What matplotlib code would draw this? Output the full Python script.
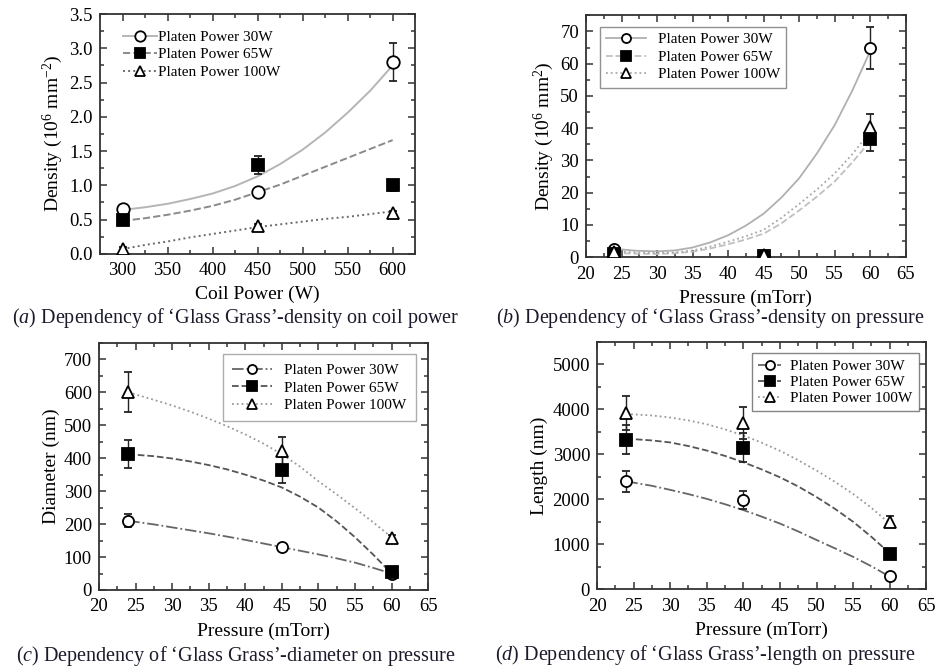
import matplotlib
matplotlib.use("Agg")
import matplotlib.pyplot as plt
from matplotlib.lines import Line2D
from matplotlib.ticker import MultipleLocator, FormatStrFormatter

plt.rcParams['font.family'] = ['Liberation Serif', 'DejaVu Serif']
plt.rcParams['mathtext.fontset'] = 'custom'
plt.rcParams['mathtext.rm'] = 'Liberation Serif'
plt.rcParams['mathtext.it'] = 'Liberation Serif:italic'

labels = ['Platen Power 30W', 'Platen Power 65W', 'Platen Power 100W']

# (a) density vs coil power
coil = [300, 450, 600]
a_dens = [[0.65, 0.90, 2.80], [0.50, 1.30, 1.00], [0.07, 0.40, 0.60]]
a_err = [[0.03, 0.06, 0.28], [0.03, 0.13, 0.08], [0.03, 0.03, 0.03]]
a_fit_x = [300, 325, 350, 375, 400, 425, 450, 475, 500, 525, 550, 575, 600]
a_fit = [[0.64, 0.68, 0.73, 0.80, 0.88, 0.99, 1.13, 1.31, 1.52, 1.77, 2.06, 2.38, 2.75],
         [0.48, 0.52, 0.57, 0.63, 0.70, 0.79, 0.90, 1.01, 1.14, 1.27, 1.40, 1.53, 1.66],
         [0.07, 0.13, 0.18, 0.24, 0.29, 0.34, 0.39, 0.43, 0.47, 0.51, 0.54, 0.58, 0.62]]

# (b) density vs pressure
b_press = [24, 45, 60]
b_dens = [[2.5, 0.4, 65.0], [1.0, 0.3, 36.5], [1.5, 0.8, 40.5]]
b_err = [[0.5, 0.1, 6.5], [0.3, 0.1, 3.5], [0.4, 0.2, 4.0]]
b_fit_x = [24, 27, 30, 32.5, 35, 37.5, 40, 42.5, 45, 47.5, 50, 52.5, 55, 57.5, 60]
b_fit = [[2.6, 2.0, 1.8, 2.1, 3.0, 4.6, 6.8, 9.8, 13.5, 18.5, 24.5, 32.2, 41.0, 51.8, 64.0],
         [1.3, 1.1, 1.0, 1.2, 1.7, 2.7, 4.0, 5.5, 7.3, 10.5, 14.5, 18.8, 23.5, 29.5, 36.0],
         [1.8, 1.5, 1.3, 1.5, 2.1, 3.3, 4.8, 6.5, 8.5, 12.2, 16.5, 21.0, 26.0, 32.0, 39.0]]

# (c) diameter vs pressure
c_press = [24, 45, 60]
c_diam = [[210, 130, 50], [412, 365, 55], [600, 422, 158]]
c_err = [[20, 8, 5], [42, 40, 8], [60, 42, 10]]
c_fit_x = [24, 27.5, 30, 32.5, 35, 37.5, 40, 42.5, 45, 47.5, 50, 52.5, 55, 57.5, 60]
c_fit = [[210, 199, 190, 181, 172, 162, 152, 141, 130, 119, 108, 96, 83, 67, 50],
         [412, 406, 399, 390, 379, 366, 350, 332, 311, 283, 250, 208, 160, 107, 50],
         [600, 577, 560, 541, 520, 497, 472, 444, 412, 374, 330, 290, 248, 205, 160]]

# (d) length vs pressure
d_press = [24, 40, 60]
d_len = [[2400, 1980, 300], [3330, 3150, 780], [3920, 3700, 1500]]
d_err = [[230, 200, 50], [330, 330, 60], [380, 350, 120]]
d_fit_x = [24, 27.5, 30, 32.5, 35, 37.5, 40, 42.5, 45, 47.5, 50, 52.5, 55, 57.5, 60]
d_fit = [[2400, 2300, 2210, 2115, 2010, 1890, 1760, 1615, 1460, 1285, 1095, 910, 720, 510, 280],
         [3350, 3310, 3265, 3185, 3085, 2965, 2825, 2665, 2490, 2285, 2050, 1790, 1500, 1165, 800],
         [3900, 3865, 3820, 3755, 3670, 3555, 3420, 3260, 3080, 2870, 2640, 2390, 2120, 1810, 1460]]

markers = ['o', 's', '^']
faces = ['white', 'black', 'white']

fig = plt.figure(figsize=(9.38, 6.68), dpi=100)
ax_a = fig.add_axes([0.1066, 0.620, 0.336, 0.359])
ax_b = fig.add_axes([0.6247, 0.615, 0.341, 0.362])
ax_c = fig.add_axes([0.1055, 0.1168, 0.351, 0.370])
ax_d = fig.add_axes([0.6365, 0.118, 0.351, 0.370])


def draw(ax, x, ys, errs, fx, fits, styles, colors, ms, lw):
    handles = []
    for i in range(3):
        ax.plot(fx, fits[i], linestyle=styles[i], color=colors[i], lw=lw, zorder=2)
        ax.errorbar(x, ys[i], yerr=errs[i], fmt=markers[i], mfc=faces[i],
                    mec='black', ms=ms, mew=1.3, ecolor='#222222', elinewidth=1.0,
                    capsize=3, capthick=1.0, zorder=3)
        handles.append(Line2D([], [], linestyle=styles[i], color=colors[i], lw=lw,
                              marker=markers[i], mfc=faces[i], mec='black',
                              ms=ms - 1.5, mew=1.3))
    return handles


def style(ax, xlim, ylim, xmaj, ymaj, xlabel, ylabel):
    ax.set_xlim(*xlim)
    ax.set_ylim(*ylim)
    ax.xaxis.set_major_locator(MultipleLocator(xmaj))
    ax.xaxis.set_minor_locator(MultipleLocator(xmaj / 2))
    ax.yaxis.set_major_locator(MultipleLocator(ymaj))
    ax.yaxis.set_minor_locator(MultipleLocator(ymaj / 2))
    ax.tick_params(which='both', direction='in', top=True, right=True,
                   labelsize=13.5, width=1.1, color='#333333')
    ax.tick_params(which='major', length=5)
    ax.tick_params(which='minor', length=3)
    ax.tick_params(axis='x', pad=6)
    ax.tick_params(axis='y', pad=5)
    for s in ax.spines.values():
        s.set_linewidth(1.3)
        s.set_color('#333333')
    ax.set_xlabel(xlabel, fontsize=14, labelpad=5)
    ax.set_ylabel(ylabel, fontsize=14, labelpad=3)


h = draw(ax_a, coil, a_dens, a_err, a_fit_x, a_fit, ['-', '--', ':'],
         ['#b5b5b5', '#8a8a8a', '#6a6a6a'], 9, 1.4)
style(ax_a, (275, 625), (0, 3.5), 50, 0.5, 'Coil Power (W)', r'Density (10$^6$ mm$^{-2}$)')
ax_a.yaxis.set_major_formatter(FormatStrFormatter('%.1f'))
ax_a.legend(h, labels, loc='upper left', frameon=False, fontsize=11,
            handlelength=2.2, handletextpad=0.1, labelspacing=0.25,
            bbox_to_anchor=(0.03, 0.99))

h = draw(ax_b, b_press, b_dens, b_err, b_fit_x, b_fit, ['-', '--', ':'],
         ['#b0b0b0', '#c0c0c0', '#a8a8a8'], 8, 1.3)
style(ax_b, (20, 65), (0, 75), 5, 10, 'Pressure (mTorr)', r'Density (10$^6$ mm$^2$)')
leg = ax_b.legend(h, labels, loc='upper left', fontsize=11, fancybox=False,
                  handlelength=2.6, labelspacing=0.25, borderpad=0.4,
                  bbox_to_anchor=(0.02, 0.985))
leg.get_frame().set_edgecolor('#777777')

h = draw(ax_c, c_press, c_diam, c_err, c_fit_x, c_fit, ['-.', '--', ':'],
         ['#666666', '#555555', '#999999'], 8, 1.3)
style(ax_c, (20, 65), (0, 750), 5, 100, 'Pressure (mTorr)', 'Diameter (nm)')
leg = ax_c.legend(h, labels, loc='upper right', fontsize=11, fancybox=False,
                  handlelength=2.6, labelspacing=0.25, borderpad=0.6,
                  bbox_to_anchor=(0.985, 0.985))
leg.get_frame().set_edgecolor('#999999')

h = draw(ax_d, d_press, d_len, d_err, d_fit_x, d_fit, ['-.', '--', ':'],
         ['#666666', '#555555', '#999999'], 8, 1.3)
style(ax_d, (20, 65), (0, 5500), 5, 1000, 'Pressure (mTorr)', 'Length (nm)')
leg = ax_d.legend(h, labels, loc='upper right', fontsize=11, fancybox=False,
                  handlelength=1.5, handletextpad=0.6, labelspacing=0.15,
                  borderpad=0.4, bbox_to_anchor=(1.0, 0.985))
leg.get_frame().set_edgecolor('#666666')

cap = dict(fontsize=14.5, ha='center', va='center', color='#1a1a2a')
fig.text(0.251, 1 - 318 / 668, "($\\it{a}$) Dependency of \u2018Glass Grass\u2019-density on coil power", **cap)
fig.text(0.757, 1 - 318 / 668, "($\\it{b}$) Dependency of \u2018Glass Grass\u2019-density on pressure", **cap)
fig.text(0.251, 1 - 656 / 668, "($\\it{c}$) Dependency of \u2018Glass Grass\u2019-diameter on pressure", **cap)
fig.text(0.752, 1 - 655 / 668, "($\\it{d}$) Dependency of \u2018Glass Grass\u2019-length on pressure", **cap)

fig.savefig('out.png', dpi=100)
